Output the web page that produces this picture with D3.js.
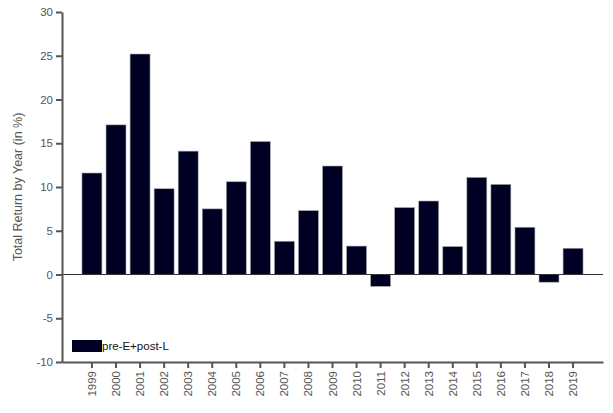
<!DOCTYPE html>
<html>
<head>
<meta charset="utf-8">
<script src="https://cdn.jsdelivr.net/npm/d3@7"></script>
<style>
  body { margin: 0; background: #fff; }
  text { font-family: Arial, "Liberation Sans", sans-serif; }
</style>
</head>
<body>
<div class="viz"></div>
<script>
// data
var years = ["1999","2000","2001","2002","2003","2004","2005","2006","2007","2008",
             "2009","2010","2011","2012","2013","2014","2015","2016","2017","2018","2019"];
var returns = [11.6, 17.1, 25.2, 9.8, 14.1, 7.5, 10.6, 15.2, 3.8, 7.3,
               12.4, 3.25, -1.36, 7.65, 8.4, 3.2, 11.1, 10.3, 5.4, -0.88, 3.0];
var yTicks = [-10, -5, 0, 5, 10, 15, 20, 25, 30];
var seriesName = "pre-E+post-L";

var width = 613, height = 413;
var margin = {top: 12, right: 10, bottom: 51, left: 62};

var svg = d3.select(".viz")
  .append("svg")
    .attr("width", width)
    .attr("height", height);

var x = d3.scaleBand()
  .domain(years)
  .range([margin.left, width - margin.right])
  .paddingInner(0.17)
  .paddingOuter(0.83);

var y = d3.scaleLinear()
  .domain([-10, 30])
  .range([height - margin.bottom, margin.top]);

var axisColor = "#555";

// bars
svg.append("g")
  .selectAll("rect")
  .data(returns)
  .join("rect")
    .attr("x", (d, i) => x(years[i]))
    .attr("width", x.bandwidth())
    .attr("y", d => y(Math.max(0, d)))
    .attr("height", d => Math.abs(y(d) - y(0)))
    .attr("fill", "#000025")
    .attr("stroke", "#aaa")
    .attr("stroke-width", 0.6);

// zero line
svg.append("line")
  .attr("x1", margin.left)
  .attr("x2", width - margin.right)
  .attr("y1", y(0))
  .attr("y2", y(0))
  .attr("stroke", "#333")
  .attr("stroke-width", 1);

// y axis (plain hyphen for negatives, like the original)
var yAxis = svg.append("g")
  .attr("transform", "translate(" + margin.left + ",0)")
  .call(d3.axisLeft(y).tickValues(yTicks).tickFormat(d => String(d)).tickSize(6).tickSizeOuter(0));

// x axis
var xAxis = svg.append("g")
  .attr("transform", "translate(0," + (height - margin.bottom) + ")")
  .call(d3.axisBottom(x).tickSize(6).tickSizeOuter(0));

xAxis.selectAll("text")
  .attr("transform", "rotate(-90)")
  .attr("x", -9)
  .attr("y", 0)
  .attr("dy", "0.35em")
  .style("text-anchor", "end");

[yAxis, xAxis].forEach(function(g) {
  g.select(".domain").attr("stroke", axisColor).attr("stroke-width", 2);
  g.selectAll(".tick line").attr("stroke", axisColor).attr("stroke-width", 2);
  g.selectAll(".tick text")
    .attr("fill", axisColor)
    .style("font-size", "11.5px")
    .style("font-family", "Arial, 'Liberation Sans', sans-serif");
});
yAxis.selectAll(".tick text").attr("x", -9);

// axis title
svg.append("text")
  .attr("transform", "translate(22," + ((margin.top + height - margin.bottom) / 2) + ") rotate(-90)")
  .attr("text-anchor", "middle")
  .attr("fill", axisColor)
  .style("font-size", "12.5px")
  .text("Total Return by Year (in %)");

// legend
var legend = svg.append("g");
legend.append("rect")
  .attr("x", 72)
  .attr("y", 340)
  .attr("width", 30)
  .attr("height", 12)
  .attr("fill", "#000025");
legend.append("text")
  .attr("x", 102)
  .attr("y", 350)
  .attr("fill", "#111")
  .style("font-size", "11.5px")
  .text(seriesName);
</script>
</body>
</html>
